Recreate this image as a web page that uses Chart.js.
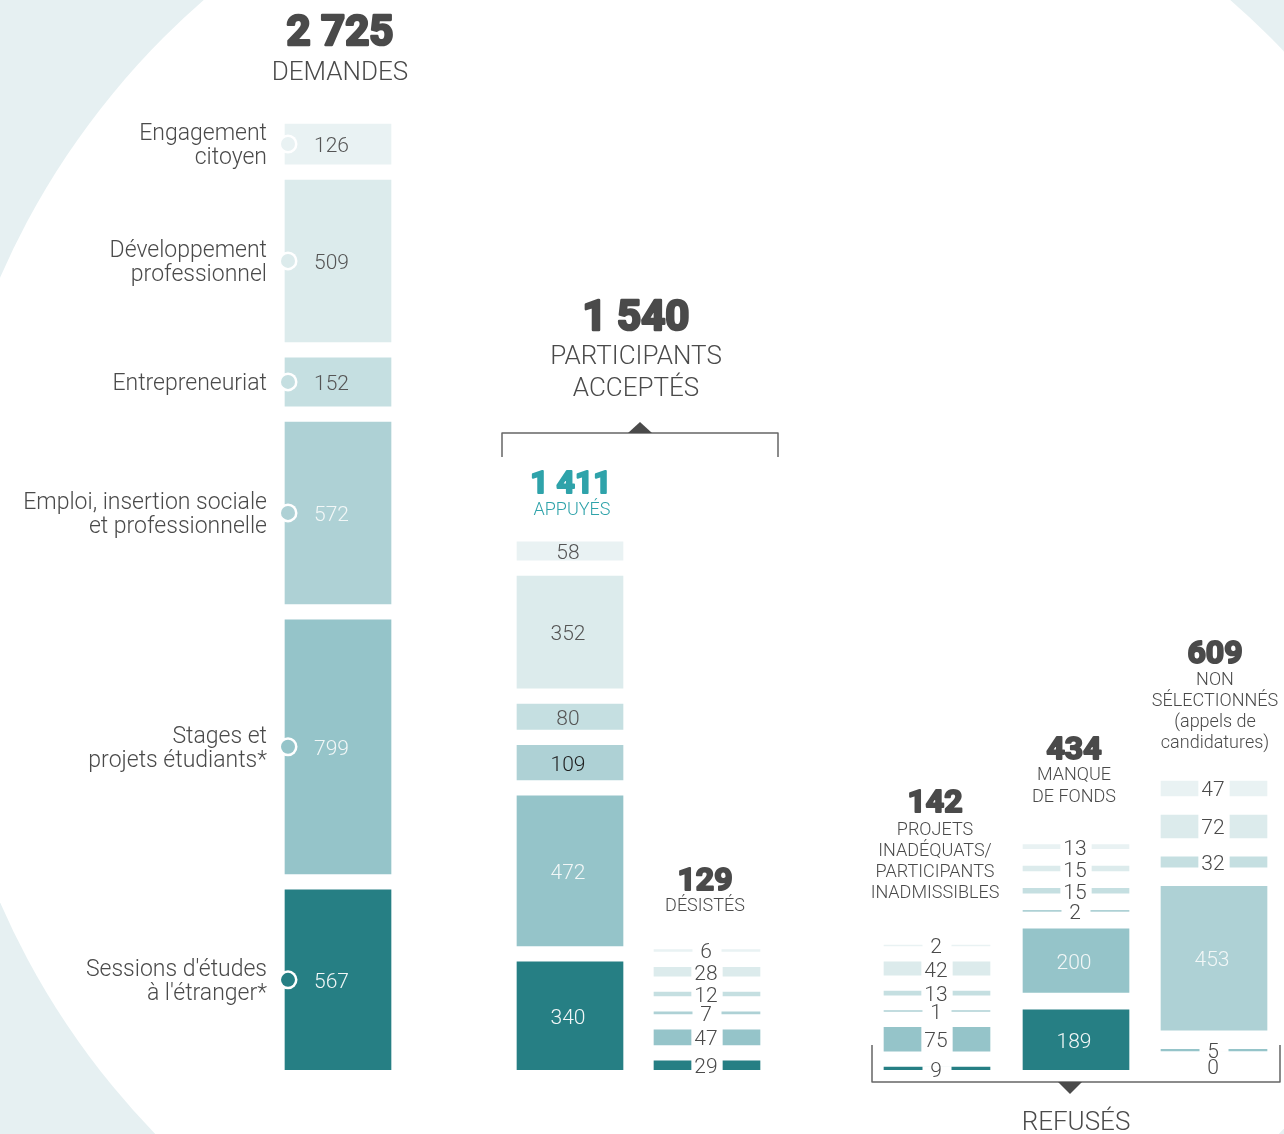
<!DOCTYPE html>
<html lang="fr">
<head>
<meta charset="utf-8">
<title>Demandes, participants acceptés et refusés</title>
<script src="https://cdn.jsdelivr.net/npm/chart.js@4.4.1/dist/chart.umd.min.js"></script>
<style>
  html, body { margin: 0; padding: 0; background: #fff; }
  #wrap { width: 1284px; height: 1134px; }
</style>
</head>
<body>
<div id="wrap"><canvas id="flowChart" width="1284" height="1134"></canvas></div>
<script>
// columns, left to right
const columns = ["Demandes", "Appuyés", "Désistés", "Projets inadéquats", "Manque de fonds", "Non sélectionnés"];

// categories, top to bottom (label lines)
const categories = [
  ["Engagement", "citoyen"],
  ["Développement", "professionnel"],
  ["Entrepreneuriat"],
  ["Emploi, insertion sociale", "et professionnelle"],
  ["Stages et", "projets étudiants*"],
  ["Sessions d'études", "à l'étranger*"]
];

// one value per column for each category
const engagementCitoyen = [126, 58, 6, 2, 13, 47];
const developpementPro  = [509, 352, 28, 42, 15, 72];
const entrepreneuriat   = [152, 80, 12, 13, 15, 32];
const emploiInsertion   = [572, 109, 7, 1, 2, 453];
const stagesProjets     = [799, 472, 47, 75, 200, 5];
const sessionsEtranger  = [567, 340, 29, 9, 189, 0];
const series = [engagementCitoyen, developpementPro, entrepreneuriat, emploiInsertion, stagesProjets, sessionsEtranger];

// layout
const columnX = [338, 570, 707, 937, 1076, 1214];   // column centres on the x scale
const columnGap = [50, 50, 50, 50, 55, 60];          // space between segments, in value units
const yMax = 3365;
const colors = ["#e9f2f3", "#dcebec", "#c5dfe1", "#aed1d5", "#95c4c9", "#267f84"];
const ink = "#4a4a4a";
const teal = "#2fa3aa";

const totals = columns.map((c, j) => series.reduce((s, vals) => s + vals[j], 0));
const fmt = n => String(n).replace(/\B(?=(\d{3})+(?!\d))/g, " ");

// stack from the bottom (last category) upwards, leaving a gap between segments
const ranges = series.map(() => []);
columns.forEach((c, j) => {
  let base = 0;
  for (let i = series.length - 1; i >= 0; i--) {
    const v = series[i][j];
    ranges[i][j] = [base, base + v];
    base += v + columnGap[j];
  }
});

const datasets = series.map((vals, i) => ({
  label: categories[i].join(" "),
  data: vals.map((v, j) => ({ x: columnX[j], y: ranges[i][j] })),
  backgroundColor: vals.map(v => v === 0 ? "rgba(0,0,0,0)" : colors[i]),
  borderWidth: 0
}));

const backgroundPlugin = {
  id: "background",
  beforeDraw(chart) {
    const ctx = chart.ctx;
    ctx.save();
    ctx.fillStyle = "#e6f0f2";
    ctx.fillRect(0, 0, chart.width, chart.height);
    ctx.fillStyle = "#ffffff";
    ctx.beginPath();
    ctx.arc(717, 590, 782, 0, Math.PI * 2);
    ctx.fill();
    ctx.restore();
  }
};

const labelPlugin = {
  id: "segmentLabels",
  afterDatasetsDraw(chart) {
    const ctx = chart.ctx;
    ctx.save();
    ctx.textBaseline = "alphabetic";
    chart.data.datasets.forEach((ds, i) => {
      const meta = chart.getDatasetMeta(i);
      meta.data.forEach((bar, j) => {
        const v = series[i][j];
        const p = bar.getProps(["x", "y", "base", "width"], true);
        const top = Math.min(p.y, p.base), bottom = Math.max(p.y, p.base);
        const cy = (top + bottom) / 2;
        const base = cy + 8 - (v === 0 ? 4 : 0);  // digits centred on the segment
        const left = p.x - p.width / 2;
        const inside = j < 2 || v >= 100;
        ctx.font = "300 21px Roboto";
        if (inside) {
          let col = i < 3 ? "#555555" : "#f2f7f7";
          if (j === 1 && i === 3) col = "#1e1e1e";
          ctx.fillStyle = col;
          if (j === 0) {
            ctx.textAlign = "left";
            ctx.fillText(String(v), left + 29, base);
          } else {
            ctx.textAlign = "center";
            ctx.fillText(String(v), p.x - 2, base);
          }
        } else {
          const w = Math.max(29, ctx.measureText(String(v)).width + 8);
          if (v > 0) {
            ctx.fillStyle = "#ffffff";
            ctx.fillRect(p.x - w / 2, top - 1, w, bottom - top + 2);
          }
          ctx.fillStyle = ink;
          ctx.textAlign = "center";
          ctx.fillText(String(v), p.x - 1, base);
        }
        if (j === 0) {
          // marker and category name on the first column
          ctx.fillStyle = "#ffffff";
          ctx.beginPath();
          ctx.arc(left + 3, cy, 9.5, 0, Math.PI * 2);
          ctx.fill();
          ctx.fillStyle = colors[i];
          ctx.beginPath();
          ctx.arc(left + 3, cy, 7, 0, Math.PI * 2);
          ctx.fill();
          const lines = categories[i];
          ctx.font = "300 23px Roboto";
          ctx.fillStyle = ink;
          ctx.textAlign = "right";
          lines.forEach((ln, k) => {
            ctx.fillText(ln, left - 18, cy + 8 + (k - (lines.length - 1) / 2) * 24);
          });
        }
      });
    });
    ctx.restore();
  }
};

function textLines(ctx, lines, x, y, lh, font, color, heavy) {
  ctx.font = font;
  ctx.fillStyle = color;
  ctx.strokeStyle = color;
  ctx.lineJoin = "round";
  ctx.lineWidth = heavy || 0;
  lines.forEach((ln, k) => {
    if (heavy) ctx.strokeText(ln, x, y + k * lh);
    ctx.fillText(ln, x, y + k * lh);
  });
}

const headerPlugin = {
  id: "headers",
  afterDraw(chart) {
    const ctx = chart.ctx;
    const xs = chart.scales.x;
    ctx.save();
    ctx.textAlign = "center";
    ctx.textBaseline = "alphabetic";
    const big = "bold 42px Roboto", mid = "bold 32px Roboto";
    const cap = "300 26px Roboto", small = "300 18px Roboto";

    textLines(ctx, [fmt(totals[0])], 340, 45, 0, big, ink, 2.6);
    textLines(ctx, ["DEMANDES"], 340, 80, 0, cap, ink);

    textLines(ctx, [fmt(totals[1] + totals[2])], 636, 330, 0, big, ink, 2.6);
    textLines(ctx, ["PARTICIPANTS", "ACCEPTÉS"], 636, 364, 32, cap, ink);

    textLines(ctx, [fmt(totals[1])], 571, 493, 0, mid, teal, 2);
    textLines(ctx, ["APPUYÉS"], 572, 515, 0, small, teal);

    textLines(ctx, [fmt(totals[2])], 705, 890, 0, mid, ink, 2);
    textLines(ctx, ["DÉSISTÉS"], 705, 911, 0, small, ink);

    textLines(ctx, [fmt(totals[3])], 935, 812, 0, mid, ink, 2);
    textLines(ctx, ["PROJETS", "INADÉQUATS/", "PARTICIPANTS", "INADMISSIBLES"], 935, 835, 21, small, ink);

    textLines(ctx, [fmt(totals[4])], 1074, 759, 0, mid, ink, 2);
    textLines(ctx, ["MANQUE", "DE FONDS"], 1074, 780, 22, small, ink);

    textLines(ctx, [fmt(totals[5])], 1215, 663, 0, mid, ink, 2);
    textLines(ctx, ["NON", "SÉLECTIONNÉS", "(appels de", "candidatures)"], 1215, 685, 21, small, ink);

    textLines(ctx, ["REFUSÉS"], 1076, 1130, 0, cap, ink);

    // bracket over the accepted columns
    ctx.strokeStyle = "#666666";
    ctx.lineWidth = 1.5;
    const aL = xs.getPixelForValue(columnX[1]) - 68, aR = xs.getPixelForValue(columnX[2]) + 71;
    ctx.beginPath();
    ctx.moveTo(aL, 457); ctx.lineTo(aL, 433); ctx.lineTo(aR, 433); ctx.lineTo(aR, 457);
    ctx.stroke();
    const aM = (aL + aR) / 2;
    ctx.fillStyle = ink;
    ctx.beginPath();
    ctx.moveTo(aM - 12, 433); ctx.lineTo(aM, 422); ctx.lineTo(aM + 12, 433); ctx.closePath();
    ctx.fill();

    // bracket under the refused columns
    const rL = xs.getPixelForValue(columnX[3]) - 65, rR = xs.getPixelForValue(columnX[5]) + 66;
    ctx.beginPath();
    ctx.moveTo(rL, 1045); ctx.lineTo(rL, 1082); ctx.lineTo(rR, 1082); ctx.lineTo(rR, 1045);
    ctx.stroke();
    const rM = xs.getPixelForValue(columnX[4]) - 6;
    ctx.beginPath();
    ctx.moveTo(rM - 12, 1082); ctx.lineTo(rM, 1094); ctx.lineTo(rM + 12, 1082); ctx.closePath();
    ctx.fill();
    ctx.restore();
  }
};

Chart.defaults.font.family = "Roboto";

new Chart(document.getElementById("flowChart"), {
  type: "bar",
  data: { datasets },
  options: {
    responsive: false,
    animation: false,
    layout: { padding: { top: 0, left: 0, right: 0, bottom: 64 } },
    plugins: { legend: { display: false }, tooltip: { enabled: false } },
    datasets: { bar: { barThickness: 106, grouped: false, minBarLength: 1 } },
    scales: {
      x: { type: "linear", display: false, offset: false, min: 0, max: 1284 },
      y: { display: false, min: 0, max: yMax }
    }
  },
  plugins: [backgroundPlugin, labelPlugin, headerPlugin]
});
</script>
</body>
</html>
